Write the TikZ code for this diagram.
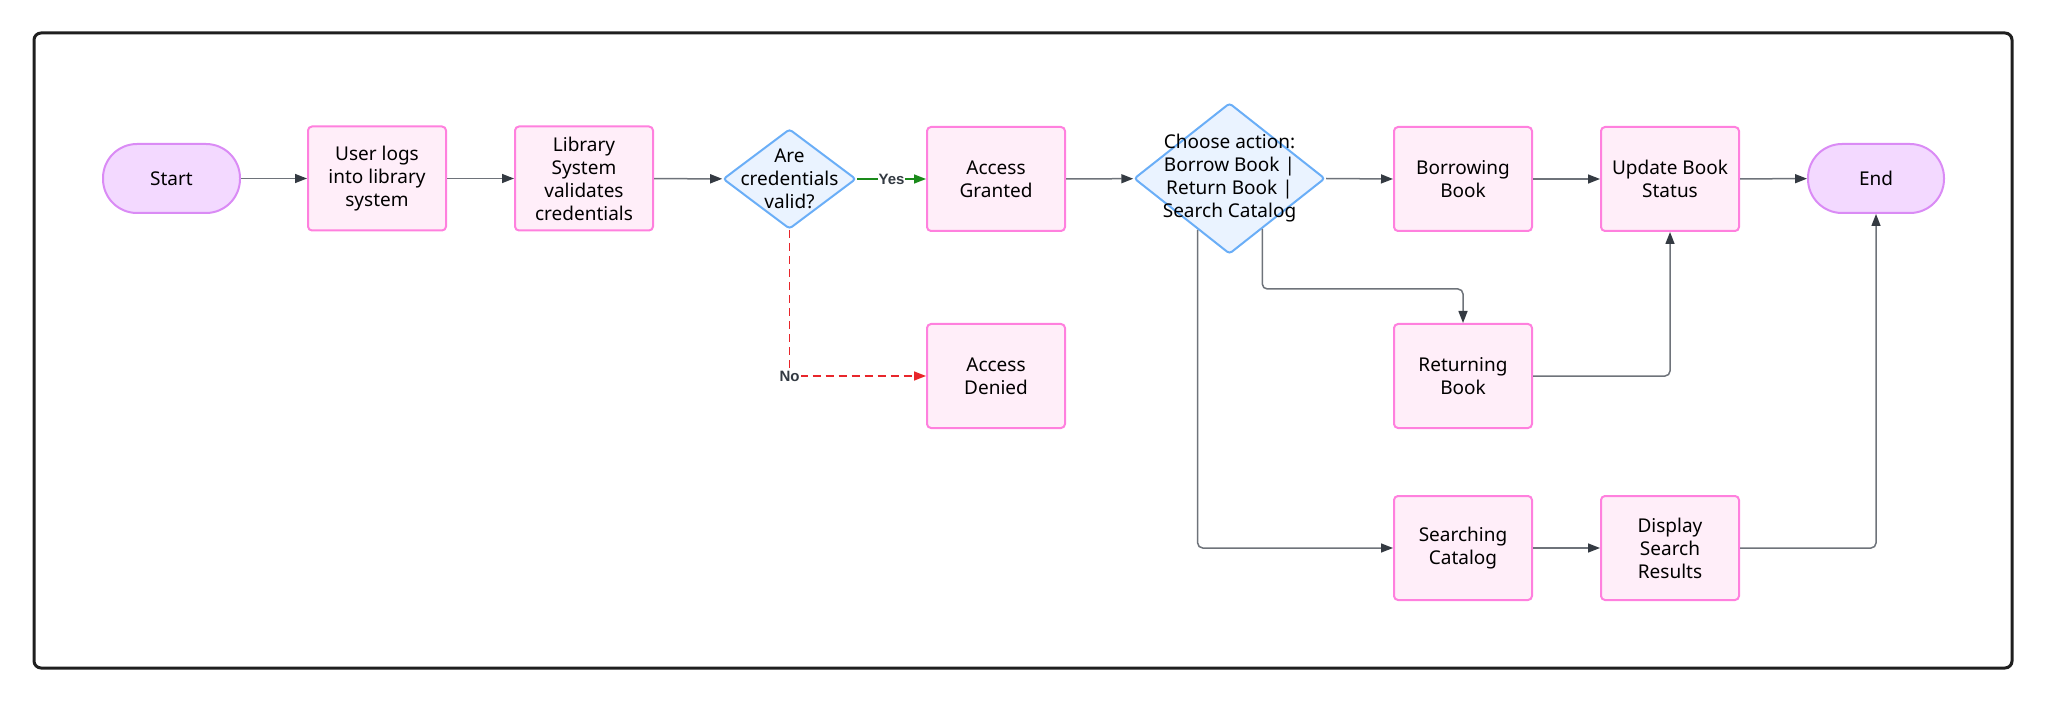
\documentclass[tikz,border=0pt]{standalone}
\usepackage{fontspec}
\setmainfont{Noto Sans}
\newfontfamily\lblfont{Liberation Sans}
\usetikzlibrary{shapes.geometric,arrows.meta,calc}

\definecolor{boxfill}{HTML}{FFEEF9}
\definecolor{boxline}{HTML}{FF80DE}
\definecolor{termfill}{HTML}{F3D9FF}
\definecolor{termline}{HTML}{DA8BF5}
\definecolor{decfill}{HTML}{EAF3FF}
\definecolor{decline}{HTML}{6AAEF7}
\definecolor{flowline}{HTML}{6E737A}
\definecolor{tipcol}{HTML}{343A42}
\definecolor{yescol}{HTML}{1A8A1A}
\definecolor{nocol}{HTML}{E8262B}
\definecolor{labelcol}{HTML}{333A42}

\tikzset{
  procbox/.style={draw=boxline, fill=boxfill, line width=2pt, rounded corners=4pt,
    minimum width=138pt, minimum height=104pt, align=center, inner sep=2pt},
  termbox/.style={draw=termline, fill=termfill, line width=2pt, rounded corners=34pt,
    minimum width=137pt, minimum height=69pt, align=center, inner sep=2pt},
  decbox/.style={diamond, draw=decline, fill=decfill, line width=2pt, rounded corners=3pt,
    inner sep=0pt},
  frame/.style={draw=black!88, line width=3pt, rounded corners=7pt, inner sep=0pt},
  flow/.style={draw=flowline, line width=1.5pt, rounded corners=5pt,
    -{Triangle[length=12pt,width=9pt,color=tipcol]}},
  yesflow/.style={draw=yescol, line width=1.5pt,
    -{Triangle[length=12pt,width=9pt,color=yescol]}},
  noflow/.style={draw=nocol, line width=1.5pt, dash pattern=on 8pt off 5pt,
    -{Triangle[length=12pt,width=9pt,color=nocol]}},
  edgelabel/.style={fill=white, inner sep=1pt, text=labelcol,
    font=\lblfont\bfseries\fontsize{15}{17}\selectfont},
}

\begin{document}
\begin{tikzpicture}[x=1pt, y=-1pt, font=\fontsize{19}{23}\selectfont]
\useasboundingbox (0,0) rectangle (2048,703);

% outer frame
\node[frame, minimum width=1978pt, minimum height=635pt] (frame) at (1023,350.5) {};

% main row
\node[termbox] (start) at (171.5,178.5) {Start};
\node[procbox] (login) at (377,178.5) {User logs\\into library\\system};
\node[procbox] (validate) at (584,178.5) {Library\\System\\validates\\credentials};
\node[decbox, minimum width=133pt, minimum height=100pt,
      label={[align=center]center:Are\\credentials\\valid?}] (valid) at (789.5,179) {};
\node[procbox] (granted) at (996,179) {Access\\Granted};
\node[procbox] (denied) at (996,376) {Access\\Denied};
\node[decbox, minimum width=191pt, minimum height=151pt,
      label={[align=center]center:Choose action:\\Borrow Book |\\Return Book |\\Search Catalog}] (choose) at (1229.5,178.5) {};
\node[procbox] (borrow) at (1463,179) {Borrowing\\Book};
\node[procbox] (update) at (1670,179) {Update Book\\Status};
\node[termbox, minimum width=136pt] (finish) at (1876,178.5) {End};

% lower branches
\node[procbox] (returning) at (1463,376) {Returning\\Book};
\node[procbox] (searching) at (1463,548) {Searching\\Catalog};
\node[procbox] (display) at (1670,548) {Display\\Search\\Results};

% exit points on the lower edges of the action diamond
\coordinate (chooseL) at ($(choose.south)!0.33!(choose.west)$);
\coordinate (chooseR) at ($(choose.south)!0.34!(choose.east)$);

% connectors
\draw[flow] (start) -- (login);
\draw[flow] (login) -- (validate);
\draw[flow] (validate) -- (valid);
\draw[yesflow] (valid.east) -- node[edgelabel] {Yes} (granted.west);
\draw[noflow] (valid.south) |- node[edgelabel, pos=0.5] {No} (denied.west);
\draw[flow] (granted) -- (choose);
\draw[flow] (choose.east) -- (borrow.west);
\draw[flow] (borrow) -- (update);
\draw[flow] (update) -- (finish);
\draw[flow] (chooseR) -- ++(0,60) -| (returning.north);
\draw[flow] (chooseL) |- (searching.west);
\draw[flow] (returning.east) -| (update.south);
\draw[flow] (searching) -- (display);
\draw[flow] (display.east) -| (finish.south);
\end{tikzpicture}
\end{document}
